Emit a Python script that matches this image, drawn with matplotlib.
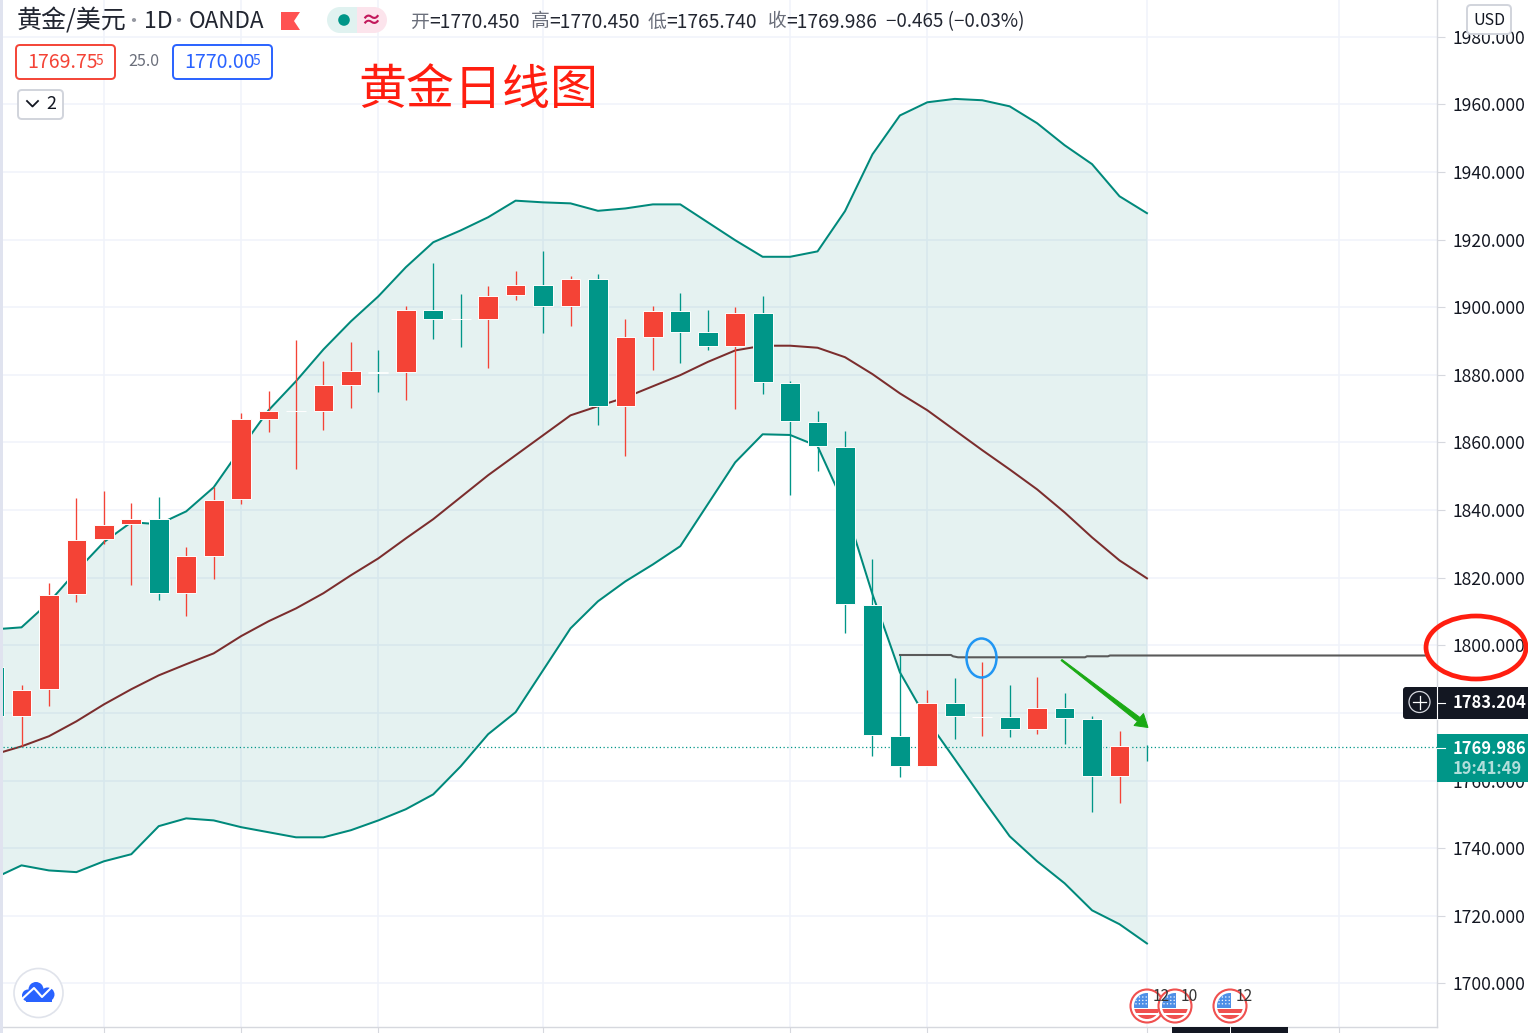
import matplotlib
matplotlib.use("Agg")
import matplotlib.pyplot as plt
from matplotlib.patches import Circle, Ellipse, FancyBboxPatch, Polygon, Rectangle, Wedge

plt.rcParams['font.family'] = ['Noto Sans CJK SC', 'DejaVu Sans']

# ---------- data ----------
opens = [1793.5, 1779.0, 1787.0, 1815.1, 1831.3, 1835.8, 1837.4, 1815.6, 1826.5, 1843.2, 1867.0,
         1869.4, 1869.4, 1877.1, 1880.9, 1880.7, 1899.2, 1896.6, 1896.6, 1903.5, 1906.6, 1900.2,
         1908.3, 1870.7, 1891.3, 1898.9, 1892.7, 1888.6, 1898.3, 1877.5, 1866.1, 1858.6, 1811.8,
         1773.1, 1764.2, 1782.9, 1778.9, 1778.8, 1775.2, 1781.5, 1778.2, 1761.3, 1770.45]
closes = [1779.0, 1786.8, 1814.9, 1831.1, 1835.6, 1837.4, 1815.6, 1826.4, 1843.0, 1866.9, 1869.3,
          1869.4, 1877.0, 1881.1, 1880.6, 1899.2, 1896.6, 1896.5, 1903.3, 1906.6, 1900.2, 1908.3,
          1870.7, 1891.2, 1898.9, 1892.8, 1888.6, 1898.3, 1877.8, 1866.2, 1858.8, 1812.1, 1773.4,
          1764.2, 1782.9, 1779.0, 1778.9, 1775.2, 1781.5, 1778.4, 1761.3, 1770.1, 1769.986]
highs = [1793.5, 1788.2, 1818.3, 1843.5, 1845.5, 1842.0, 1843.8, 1829.0, 1846.7, 1868.6, 1875.1,
         1890.2, 1884.0, 1889.6, 1887.2, 1900.3, 1913.0, 1903.8, 1906.2, 1910.6, 1916.5, 1909.1,
         1909.7, 1896.4, 1900.3, 1904.1, 1899.1, 1900.0, 1903.2, 1878.1, 1869.2, 1863.3, 1825.4,
         1797.3, 1786.7, 1790.2, 1795.0, 1788.2, 1790.5, 1785.8, 1779.0, 1774.6, 1770.45]
lows = [1779.0, 1770.1, 1782.0, 1812.8, 1829.9, 1817.7, 1813.4, 1808.7, 1819.6, 1841.7, 1863.1,
        1852.1, 1863.7, 1870.1, 1874.8, 1872.5, 1890.6, 1888.2, 1881.9, 1902.0, 1892.3, 1894.3,
        1865.1, 1855.9, 1881.3, 1883.4, 1887.2, 1869.8, 1874.2, 1844.4, 1851.5, 1803.5, 1767.3,
        1761.0, 1764.2, 1772.2, 1773.2, 1772.9, 1773.7, 1770.7, 1750.7, 1753.3, 1765.74]
upper = [1804.7, 1805.3, 1812.7, 1821.9, 1830.5, 1836.4, 1835.8, 1839.6, 1846.7, 1858.3, 1869.5,
         1878.1, 1887.5, 1895.8, 1903.2, 1911.8, 1919.2, 1922.7, 1926.6, 1931.5, 1931.0, 1930.7,
         1928.5, 1929.2, 1930.4, 1930.4, 1925.1, 1919.8, 1914.9, 1914.9, 1916.5, 1928.4, 1945.2,
         1956.7, 1960.6, 1961.6, 1961.2, 1959.4, 1954.4, 1947.9, 1942.3, 1932.8, 1927.8]
middle = [1767.7, 1770.1, 1773.1, 1777.5, 1782.5, 1787.0, 1791.1, 1794.4, 1797.6, 1802.7, 1807.1,
          1810.9, 1815.4, 1820.7, 1825.7, 1831.6, 1837.3, 1843.8, 1850.3, 1856.2, 1862.1, 1868.0,
          1870.7, 1873.3, 1876.6, 1879.9, 1883.8, 1887.2, 1888.6, 1888.6, 1888.0, 1885.2, 1880.2,
          1874.5, 1869.5, 1863.6, 1857.7, 1852.0, 1846.1, 1839.3, 1831.9, 1825.1, 1819.8]
lower = [1731.1, 1734.9, 1733.4, 1732.9, 1736.1, 1738.2, 1746.5, 1748.8, 1748.2, 1746.2, 1744.7,
         1743.2, 1743.2, 1745.3, 1748.2, 1751.5, 1755.9, 1764.2, 1773.7, 1780.2, 1792.6, 1805.0,
         1813.0, 1818.9, 1823.9, 1829.3, 1841.7, 1854.1, 1862.4, 1862.2, 1858.9, 1841.1, 1815.1,
         1792.0, 1777.8, 1766.3, 1754.7, 1743.5, 1736.1, 1729.6, 1721.6, 1717.5, 1711.8]
price_ticks = list(range(1700, 2000, 20))
hidden_price_labels = [1780]  # covered by the crosshair label in the platform
time_ticks = [3, 8, 13, 19, 28, 33, 41, 48]
last_price = 1769.986

# ---------- palette ----------
UP, DOWN = '#F44336', '#009688'
BAND, MID = '#00897B', '#7B2D2D'
GRID, AXIS = '#F0F3FA', '#D6D8DE'
INK, GREY = '#131722', '#6B6F7B'

W, H = 1528, 1033
fig = plt.figure(figsize=(W / 100, H / 100), dpi=100, facecolor='white')

# ---------- chart pane ----------
ax = fig.add_axes([3 / W, 1 - 1027 / H, (1437 - 3) / W, 1027 / H])
ax.set_xlim((3 - 21.5) / 27.45, (1437 - 21.5) / 27.45)
ax.set_ylim(1990.85 - 0.29577 * 1027, 1990.85)
for name, sp in ax.spines.items():
    sp.set_visible(name in ('right', 'bottom'))
    sp.set_color(AXIS)
    sp.set_linewidth(1)
ax.yaxis.tick_right()
ax.set_yticks(price_ticks)
ax.set_yticklabels(['' if p in hidden_price_labels else f'{p:.3f}' for p in price_ticks],
                   fontsize=12.6, color=INK)
ax.set_xticks(time_ticks)
ax.set_xticklabels([])
ax.tick_params(axis='y', length=5.5, width=0.8, color=AXIS, pad=5.5)
ax.tick_params(axis='x', length=4.5, width=0.8, color=AXIS)
ax.grid(True, color=GRID, lw=1.1, zorder=0)
ax.set_axisbelow(True)

idx = list(range(-1, 42))
ax.fill_between(idx, lower, upper, color=BAND, alpha=0.1, lw=0, zorder=1)
ax.plot(idx, upper, color=BAND, lw=1.45, zorder=2)
ax.plot(idx, lower, color=BAND, lw=1.45, zorder=2)
ax.plot(idx, middle, color=MID, lw=1.45, zorder=2)
ax.axhline(last_price, color=DOWN, lw=0.9, ls=(0, (1, 2)), zorder=2.5)

colors = [UP if c >= o else DOWN for o, c in zip(opens, closes)]
ax.vlines(idx, lows, highs, colors=colors, lw=0.95, zorder=3)
# the forming candle on the right shows only its wick
ax.bar(idx[:-1], [c - o for o, c in zip(opens[:-1], closes[:-1])], bottom=opens[:-1],
       width=0.72, color=colors[:-1], edgecolor='white', lw=0.7, zorder=4)

# ---------- overlay in pixel units ----------
ov = fig.add_axes([0, 0, 1, 1], facecolor='none')
ov.set_xlim(0, W)
ov.set_ylim(H, 0)
ov.axis('off')


def txt(x, y, s, px, color=INK, ha='left', **kw):
    ov.text(x, y, s, fontsize=px * 0.72, color=color, ha=ha, va='center', **kw)


def box(x0, y0, x1, y1, ec, fc='white', r=4, lw=1.4, z=5):
    ov.add_patch(FancyBboxPatch((x0 + r, y0 + r), x1 - x0 - 2 * r, y1 - y0 - 2 * r,
                                boxstyle=f'round,pad={r},rounding_size={r}',
                                ec=ec, fc=fc, lw=lw, zorder=z))


ov.add_patch(Rectangle((0, 0), 3, H, fc='#E0E3EF', ec='none'))

# hand-drawn marks
lx = [900, 951, 953, 958, 1085, 1087, 1108, 1110, 1428]
ly = [655, 655, 656.3, 657.3, 657.3, 656.3, 656.3, 655.5, 655.5]
ov.plot(lx, ly, color='#5A5A5A', lw=1.5, zorder=5)
ov.add_patch(Ellipse((1476, 647.5), 100, 63, fc='none', ec='#FF1E10', lw=3.4, zorder=6))
ov.add_patch(Ellipse((981.5, 658), 30, 39, fc='none', ec='#2196F3', lw=1.8, zorder=6))
ov.add_patch(Polygon([(1062, 659.5), (1140, 717.5), (1143.5, 713.5), (1148, 727.5), (1134, 725.5),
                      (1137.5, 721.5), (1061, 660.5)], fc='#1AAA14', ec='#1AAA14', lw=0.7, zorder=6))

# header
txt(17, 21, '黄金/美元', 25, '#222631')
txt(133, 22, '·', 20, '#9598A1', ha='center')
txt(144, 21, '1D', 23, '#222631')
txt(178, 22, '·', 20, '#9598A1', ha='center')
txt(189, 21, 'OANDA', 22.5, '#222631')
ov.add_patch(Polygon([(281, 12), (300, 12), (294, 21), (300, 30), (281, 30)], fc='#FF5252', ec='none'))
ov.add_patch(Wedge((340, 20), 13, 90, 270, fc='#E0F2F0', ec='none'))
ov.add_patch(Rectangle((357, 7), 17, 26, fc='#FCE4EC', ec='none'))
ov.add_patch(Rectangle((340, 7), 17, 26, fc='#E0F2F0', ec='none'))
ov.add_patch(Wedge((374, 20), 13, -90, 90, fc='#FCE4EC', ec='none'))
ov.add_patch(Circle((344, 20), 5.8, fc='#009688', ec='none', zorder=6))
txt(371, 20, '≈', 21, '#C2185B', ha='center', fontweight='bold')

for x, lab, val in [(411, '开', '=1770.450'), (531, '高', '=1770.450'),
                    (648, '低', '=1765.740'), (768, '收', '=1769.986')]:
    txt(x, 22, lab, 18.8, GREY)
    txt(x + 18.5, 22, val, 19.2, '#222631')
txt(886, 22, '−0.465 (−0.03%)', 18.8, '#222631')

box(16, 45, 115, 79, UP)
txt(27, 63, '1769.75', 19.5, UP, zorder=7)
txt(96, 61, '5', 13.5, UP, zorder=7)
txt(128, 62, '25.0', 16, GREY)
box(173, 45, 272, 79, '#2962FF')
txt(184, 63, '1770.00', 19.5, '#2962FF', zorder=7)
txt(253, 61, '5', 13.5, '#2962FF', zorder=7)
box(18, 90, 63, 119, '#D1D4DC')
ov.plot([27, 32.5, 38], [101, 106.5, 101], color=INK, lw=1.3, zorder=7)
txt(46, 104, '2', 18, INK, zorder=7)
txt(358, 90, '黄金日线图', 48, '#FF1E10', zorder=7)
box(1467, 5, 1511, 34, '#D1D4DC', z=8)
txt(1489, 20.5, 'USD', 16, INK, ha='center', zorder=9)

# price labels
box(1403, 687, 1440, 719, INK, fc=INK, r=3, lw=0, z=7)
ov.add_patch(Rectangle((1420, 687), 108, 32, fc=INK, ec='none', zorder=7))
ov.plot([1436.5, 1436.5], [687, 719], color='white', lw=0.8, zorder=8)
ov.plot([1438, 1445], [703, 703], color='white', lw=0.8, zorder=8)
ov.add_patch(Circle((1419.5, 702), 10.5, fc='none', ec='#D6D8DE', lw=0.9, zorder=8))
ov.plot([1413, 1426], [702, 702], color='white', lw=0.9, zorder=8)
ov.plot([1419.5, 1419.5], [695.5, 708.5], color='white', lw=0.9, zorder=8)
txt(1453, 703.5, '1783.204', 16.6, 'white', fontweight='bold', zorder=9)
ov.add_patch(Rectangle((1437, 734), 91, 48, fc=DOWN, ec='none', zorder=7))
ov.plot([1437, 1445], [748, 748], color='white', lw=0.8, zorder=8)
txt(1453, 748.5, '1769.986', 16.6, 'white', fontweight='bold', zorder=9)
txt(1453, 769.5, '19:41:49', 16.6, '#B2DFDB', fontweight='bold', zorder=9)

# event markers
for cx, lab in [(1147, '12'), (1175, '10'), (1230, '12')]:
    clip = Circle((cx, 1006), 13, transform=ov.transData)
    ov.add_patch(Circle((cx, 1006), 16.5, fc='white', ec='#F0504F', lw=1.5, zorder=5))
    parts = [Rectangle((cx - 14, 1009), 28, 3.5, fc='#F0504F', ec='none', zorder=6),
             Rectangle((cx - 14, 1015), 28, 5, fc='#F0504F', ec='none', zorder=6),
             Rectangle((cx - 14, 992), 15, 15.5, fc='#4E8FE6', ec='none', zorder=6)]
    parts += [Circle((cx - 11 + 3.4 * i, 997 + 3.4 * j), 0.7, fc='white', ec='none', zorder=6.5)
              for i in range(4) for j in range(3)]
    for patch in parts:
        ov.add_patch(patch)
        patch.set_clip_path(clip)
    txt(cx + 6, 996.5, lab, 15.5, '#333333', zorder=7)
ov.add_patch(Rectangle((1172, 1027), 58, 6, fc=INK, ec='none', zorder=7))
ov.add_patch(Rectangle((1231, 1027), 57, 6, fc=INK, ec='none', zorder=7))

# logo
ov.add_patch(Circle((38.5, 993), 24.5, fc='white', ec='#E0E3EB', lw=1.2, zorder=5))
for cx, cy, r in [(28, 995.5, 6), (36, 989.5, 7.5), (47.5, 994.5, 7)]:
    ov.add_patch(Circle((cx, cy), r, fc='#2962FF', ec='none', zorder=6))
ov.add_patch(Rectangle((26, 993), 26, 8.5, fc='#2962FF', ec='none', zorder=6))
ov.plot([22, 34, 42, 52], [999, 988, 997, 987], color='white', lw=1.5, zorder=7)

fig.savefig('out.png', dpi=100)
